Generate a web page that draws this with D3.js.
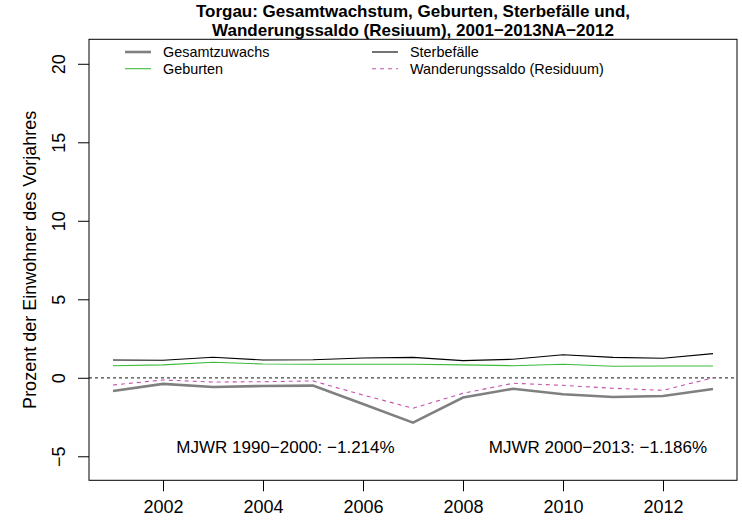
<!DOCTYPE html>
<html><head><meta charset="utf-8">
<script src="https://cdn.jsdelivr.net/npm/d3@7"></script>
<style>body{margin:0;background:#fff}svg{display:block}text{font-family:"Liberation Sans",Arial,sans-serif}</style>
</head><body><svg id="c" width="742" height="525"></svg>
<script>
const years = [2001,2002,2003,2004,2005,2006,2007,2008,2009,2010,2011,2012,2013];
const gesamtzuwachs = [-0.84,-0.39,-0.59,-0.52,-0.50,-1.67,-2.86,-1.26,-0.70,-1.05,-1.22,-1.16,-0.71];
const sterbefaelle = [1.13,1.12,1.31,1.13,1.15,1.26,1.30,1.09,1.18,1.47,1.30,1.24,1.54];
const geburten = [0.77,0.82,0.99,0.88,0.86,0.86,0.86,0.82,0.77,0.86,0.73,0.75,0.75];
const wanderungssaldo = [-0.46,-0.14,-0.27,-0.25,-0.20,-1.10,-1.94,-0.99,-0.35,-0.48,-0.67,-0.80,0.00];
const xTicks = [2002,2004,2006,2008,2010,2012];
const yTicks = [-5,0,5,10,15,20];
const titleLines = ["Torgau: Gesamtwachstum, Geburten, Sterbefälle und,","Wanderungssaldo (Resiuum), 2001\u22122013NA\u22122012"];
const yLabel = "Prozent der Einwohner des Vorjahres";
const notes = ["MJWR 1990\u22122000: \u22121.214%","MJWR 2000\u22122013: \u22121.186%"];
const noteYears = [2004.45, 2010.7];
const noteValue = -4.45;

const svg = d3.select("#c");
const L=89, R=737, T=39.3, B=480.3;
const x = d3.scaleLinear().domain([2000.52, 2013.48]).range([L, R]);
const y = d3.scaleLinear().domain([-6.53, 21.56]).range([B, T]);
const FONT = "Liberation Sans, Arial, sans-serif";

// zero line
svg.append("line").attr("x1",L).attr("x2",R).attr("y1",y(0)).attr("y2",y(0))
  .attr("stroke","#444").attr("stroke-width",1.3).attr("stroke-dasharray","3,3");

const series = [
  {name:"Gesamtzuwachs", vals:gesamtzuwachs, color:"#808080", w:2.6, dash:null},
  {name:"Sterbefälle", vals:sterbefaelle, color:"#000000", w:1.1, dash:null},
  {name:"Geburten", vals:geburten, color:"#3DBB3D", w:1.1, dash:null},
  {name:"Wanderungssaldo (Residuum)", vals:wanderungssaldo, color:"#C451B0", w:1.1, dash:"4,4"}
];
const line = d3.line().x((d,i)=>x(years[i])).y(d=>y(d));
[1,2,3,0].forEach(k=>{
  const s=series[k];
  svg.append("path").datum(s.vals).attr("d",line).attr("fill","none")
    .attr("stroke",s.color).attr("stroke-width",s.w).attr("stroke-dasharray",s.dash);
});

// box
svg.append("rect").attr("x",L).attr("y",T).attr("width",R-L).attr("height",B-T)
  .attr("fill","none").attr("stroke","#000").attr("stroke-width",1);

// x axis
const xa = svg.append("g").attr("transform",`translate(0,${B})`)
  .call(d3.axisBottom(x).tickValues(xTicks).tickFormat(d3.format("d")).tickSize(11).tickSizeOuter(0));
xa.select(".domain").remove();
xa.selectAll("line").attr("stroke","#000");
xa.selectAll("text").attr("font-size",18).attr("fill","#000").attr("font-family",FONT)
  .attr("y",33).attr("dy",0);

// y axis
const ya = svg.append("g").attr("transform",`translate(${L},0)`)
  .call(d3.axisLeft(y).tickValues(yTicks).tickFormat(d=>d<0?"\u2212"+Math.abs(d):d).tickSize(11).tickSizeOuter(0));
ya.select(".domain").remove();
ya.selectAll("line").attr("stroke","#000");
ya.selectAll("text").attr("font-size",18).attr("fill","#000").attr("font-family",FONT)
  .attr("text-anchor","middle").attr("x",0).attr("dy",0)
  .attr("transform","translate(-24,0) rotate(-90)");

// y label
svg.append("text").attr("transform",`translate(36,${(T+B)/2}) rotate(-90)`)
  .attr("text-anchor","middle").attr("font-size",18).text(yLabel);

// title
titleLines.forEach((t,i)=>{
  svg.append("text").attr("x",(L+R)/2).attr("y",17+i*19).attr("text-anchor","middle")
    .attr("font-size",17).attr("font-weight","bold").text(t);
});

// notes
notes.forEach((t,i)=>{
  svg.append("text").attr("x",x(noteYears[i])).attr("y",y(noteValue)).attr("text-anchor","middle")
    .attr("dominant-baseline","central").attr("font-size",17).text(t);
});

// legend
const legCols=[{lx:125, tx:163},{lx:372, tx:410}];
const legRows=[52, 68.7];
const legItems=[[0,0,0],[1,1,0],[2,0,1],[3,1,1]]; // series, col, row
legItems.forEach(([k,c,r])=>{
  const s=series[k];
  svg.append("line").attr("x1",legCols[c].lx).attr("x2",legCols[c].lx+26).attr("y1",legRows[r]).attr("y2",legRows[r])
    .attr("stroke",s.color).attr("stroke-width",s.w).attr("stroke-dasharray",s.dash);
  svg.append("text").attr("x",legCols[c].tx).attr("y",legRows[r]).attr("dominant-baseline","central")
    .attr("font-size",14.4).text(s.name);
});
</script></body></html>
